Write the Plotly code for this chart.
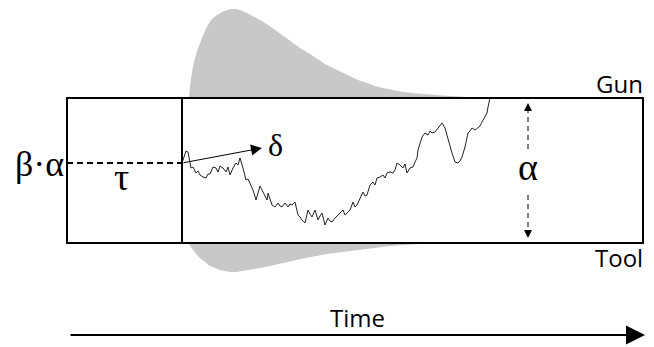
import plotly.graph_objects as go

# ---- diagram geometry (in picture units) ----
box_left, box_right = 67, 643
box_top, box_bottom = 98, 243
tau_x = 182
start_y = 163
alpha_x = 528

# ---- random-walk evidence trace ----
walk_x = [182,184,186,188,191,193,196,198,200,203,206,208,210,213,216,218,220,223,226,228,230,233,236,238,240,243,246,248,250,253,256,258,260,263,265,267,268,270,272,275,278,280,282,285,288,290,292,295,298,300,302,305,308,310,312,315,318,320,322,325,328,330,332,335,338,340,343,345,347,350,353,355,357,360,363,365,367,370,373,375,377,380,383,385,387,390,393,395,397,400,403,405,407,410,413,415,417,418,420,422,425,428,430,432,435,438,440,442,445,448,450,452,455,458,460,462,465,468,470,472,475,478,480,482,485,487,488,490]
walk_y = [163,157,151,152,168,167,173,171,175,177,178,174,174,167,168,172,166,168,172,167,175,168,163,165,158,168,180,179,183,190,200,192,186,192,197,200,193,199,205,207,203,206,207,203,207,204,205,202,215,217,220,223,210,214,217,210,220,216,213,225,218,221,222,218,215,212,210,215,213,210,202,207,205,198,192,196,195,185,182,185,178,177,175,178,173,172,173,170,163,165,168,164,173,168,167,162,158,150,142,137,133,135,131,133,132,128,125,123,128,140,147,153,162,163,161,157,147,133,131,128,130,128,126,122,117,113,107,98]

# ---- decision-time distributions ----
upper_x = [189,190,192,194,197,200,204,208,212,217,222,227,232,236,240,247,253,260,268,277,285,293,300,310,317,325,333,341,350,358,367,375,383,392,400,417,433,450,467,480]
upper_y = [98,86,72,62,51,43,33,25,19,15,12,10,9,9,10,13,16,20,25,31,37,43,48,54,59,64,68,72,76,80,83,86,88,90,91.5,93.5,95,96,97,98]
lower_x = [188,190,193,196,200,205,210,215,220,225,230,236,243,250,260,270,280,292,303,315,327,338,350,363,377,390,403,420,437,455,470]
lower_y = [243,246,250,254,258,262,266,268,270,271,272,272,271,270,268,266,264,261,258.5,256,254,252.5,251,249,247.5,246,245,244,244,243.5,243]

fig = go.Figure()
gray = "#c8c8c8"
fig.add_trace(go.Scatter(x=upper_x + [upper_x[0]], y=upper_y + [box_top], fill="toself",
                         fillcolor=gray, line=dict(width=0), mode="lines", hoverinfo="skip"))
fig.add_trace(go.Scatter(x=lower_x + [lower_x[0]], y=lower_y + [box_bottom], fill="toself",
                         fillcolor=gray, line=dict(width=0), mode="lines", hoverinfo="skip"))
fig.add_trace(go.Scatter(x=walk_x, y=walk_y, mode="lines",
                         line=dict(color="#222222", width=1), hoverinfo="skip"))

shapes = [
    dict(type="rect", x0=box_left, x1=box_right, y0=box_top, y1=box_bottom,
         line=dict(color="black", width=2)),
    dict(type="line", x0=tau_x, x1=tau_x, y0=box_top, y1=box_bottom,
         line=dict(color="black", width=2)),
    dict(type="line", x0=box_left, x1=tau_x, y0=start_y, y1=start_y,
         line=dict(color="black", width=2, dash="6px,4px")),
    dict(type="line", x0=alpha_x, x1=alpha_x, y0=108, y1=153,
         line=dict(color="black", width=1, dash="5px,4px")),
    dict(type="line", x0=alpha_x, x1=alpha_x, y0=195, y1=232,
         line=dict(color="black", width=1, dash="5px,4px")),
]

serif = "Liberation Serif"
sans = "Open Sans"
ann = [
    dict(x=39, y=164, text="β·α", font=dict(family=serif, size=36)),
    dict(x=121, y=177, text="τ", font=dict(family=serif, size=38)),
    dict(x=275, y=145, text="δ", font=dict(family=serif, size=32)),
    dict(x=alpha_x, y=167, text="α", font=dict(family=serif, size=38)),
    dict(x=645, y=83, text="Gun", xanchor="right", font=dict(family=sans, size=24)),
    dict(x=645, y=257, text="Tool", xanchor="right", font=dict(family=sans, size=24)),
    dict(x=357, y=317, text="Time", font=dict(family=sans, size=24)),
]
for a in ann:
    a.update(xref="x", yref="y", showarrow=False)
    a["font"]["color"] = "black"

arrows = [
    dict(x=262, y=148, ax=tau_x, ay=start_y, arrowwidth=1, arrowsize=2.2),
    dict(x=645, y=335, ax=69, ay=335, arrowwidth=2, arrowsize=1.9),
    dict(x=alpha_x, y=103, ax=alpha_x, ay=112, arrowwidth=1, arrowsize=1.6),
    dict(x=alpha_x, y=238, ax=alpha_x, ay=229, arrowwidth=1, arrowsize=1.6),
]
for a in arrows:
    a.update(xref="x", yref="y", axref="x", ayref="y", text="", showarrow=True,
             arrowhead=2, arrowcolor="black", standoff=0, startstandoff=0)

fig.update_layout(
    width=654, height=347, margin=dict(l=0, r=0, t=0, b=0),
    plot_bgcolor="white", paper_bgcolor="white", showlegend=False,
    shapes=shapes, annotations=ann + arrows,
    xaxis=dict(range=[0, 654], visible=False, fixedrange=True),
    yaxis=dict(range=[347, 0], visible=False, fixedrange=True),
)
fig.write_html("out.html", config={"staticPlot": True},
               post_script="document.body.style.margin='0';document.body.style.overflow='hidden';")
